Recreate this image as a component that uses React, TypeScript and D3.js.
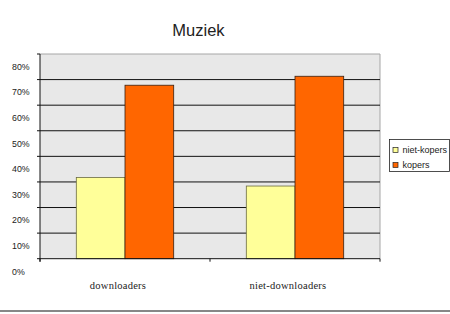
import React from "react";
import * as d3 from "d3";

const categories = ["downloaders", "niet-downloaders"];
const series = ["niet-kopers", "kopers"];
const nietKopers = [0.317, 0.284];
const kopers = [0.678, 0.713];
const yTicks = [0, 0.1, 0.2, 0.3, 0.4, 0.5, 0.6, 0.7, 0.8];
const colors = ["#ffff99", "#ff6600"];

export default function App() {
  const W = 450, H = 314;
  const left = 40, right = 380, top = 54, bottom = 258.7;
  const x = d3.scaleBand<string>().domain(categories).range([left, right]);
  const y = d3.scaleLinear().domain([0, 0.8]).range([bottom, top]);
  const barW = 48.7;
  const values = [nietKopers, kopers];
  const labelOffset = (y(0) - y(0.1)) / 2;

  return (
    <div style={{ position: "absolute", left: 0, top: 0 }}>
      <svg width={W} height={H} style={{ display: "block", background: "#fff" }}>
        <text x={198.5} y={36} textAnchor="middle" fontFamily="Liberation Sans, Arial, sans-serif" fontSize={16.5} fill="#222">
          Muziek
        </text>
        <rect x={left} y={top} width={right - left} height={bottom - top} fill="#e8e8e8" />
        <line x1={left} x2={right} y1={top} y2={top} stroke="#a6a6a6" strokeWidth={1} />
        <line x1={right} x2={right} y1={top} y2={bottom} stroke="#a6a6a6" strokeWidth={1} />
        {yTicks.slice(1, -1).map((t) => (
          <line key={t} x1={left} x2={right} y1={y(t)} y2={y(t)} stroke="#111" strokeWidth={1} />
        ))}
        {yTicks.map((t) => (
          <g key={"t" + t}>
            <line x1={left - 3} x2={left} y1={y(t)} y2={y(t)} stroke="#111" />
            <text x={12} y={y(t) + labelOffset} dy="0.35em" fontFamily="Liberation Sans, Arial, sans-serif" fontSize={8.8} fill="#222">
              {d3.format(".0%")(t)}
            </text>
          </g>
        ))}
        {categories.map((c, ci) => {
          const cx = (x(c) as number) + x.bandwidth() / 2;
          return (
            <g key={c}>
              {values.map((vals, si) => (
                <rect
                  key={si}
                  x={cx - barW + si * barW}
                  y={y(vals[ci])}
                  width={barW}
                  height={y(0) - y(vals[ci])}
                  fill={colors[si]}
                  stroke={si === 0 ? "#6b6b40" : "#3a2010"}
                  strokeWidth={0.8}
                />
              ))}
              <text x={cx - 7} y={289} textAnchor="middle" fontFamily="Liberation Serif, Times New Roman, serif" fontSize={10.5} letterSpacing={0.25} fill="#222">
                {c}
              </text>
            </g>
          );
        })}
        <line x1={left} x2={left} y1={top} y2={bottom + 3} stroke="#111" />
        <line x1={left} x2={right} y1={bottom} y2={bottom} stroke="#111" />
        {[left, (x(categories[1]) as number), right].map((tx, i) => (
          <line key={i} x1={tx} x2={tx} y1={bottom} y2={bottom + 3} stroke="#111" />
        ))}
        <rect x={389.5} y={139.5} width={60} height={32} fill="#fff" stroke="#222" strokeWidth={0.8} />
        {series.map((s, i) => (
          <g key={s}>
            <rect x={393} y={147.5 + i * 15} width={5} height={5} fill={colors[i]} stroke="#222" strokeWidth={0.7} />
            <text x={402.5} y={150 + i * 15} dy="0.35em" fontFamily="Liberation Sans, Arial, sans-serif" fontSize={9} fill="#222">
              {s}
            </text>
          </g>
        ))}
        <line x1={0} x2={W} y1={311} y2={311} stroke="#111" strokeWidth={1.2} />
      </svg>
    </div>
  );
}
